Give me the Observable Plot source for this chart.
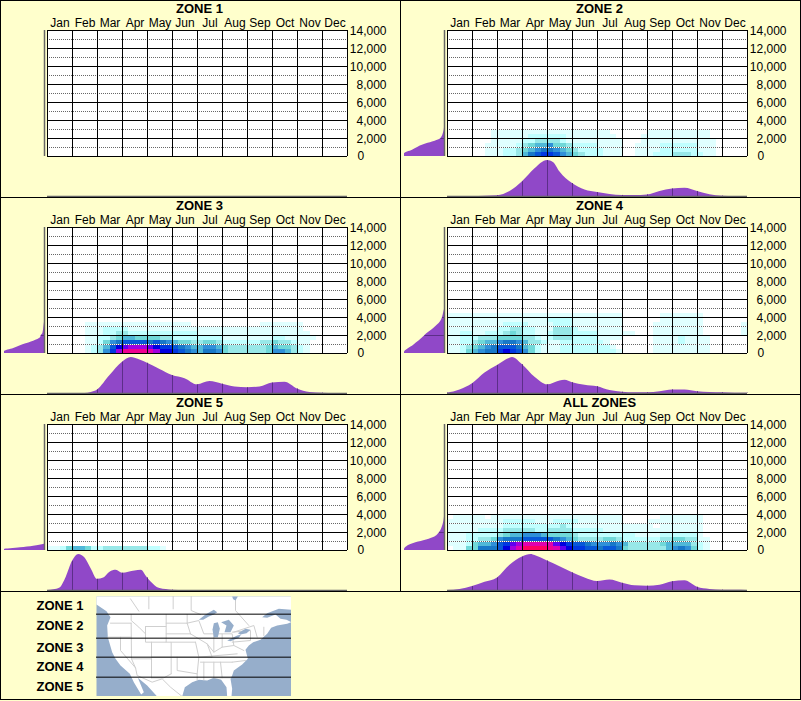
<!DOCTYPE html>
<html>
<head>
<meta charset="utf-8">
<script src="https://cdn.jsdelivr.net/npm/d3@7"></script>
<script src="https://cdn.jsdelivr.net/npm/@observablehq/plot@0.6"></script>
<style>
html,body{margin:0;padding:0;background:#ffffcc;}
#chart{position:relative;width:801px;height:701px;overflow:hidden;background:#ffffcc;}
#chart>svg{position:absolute;}
.ln{position:absolute;background:#000;}
</style>
</head>
<body>
<div id="chart"></div>
<script>
const months = ["Jan","Feb","Mar","Apr","May","Jun","Jul","Aug","Sep","Oct","Nov","Dec"];
const zoneNames = ["ZONE 1","ZONE 2","ZONE 3","ZONE 4","ZONE 5","ALL ZONES"];
const countTicks = [2000,4000,6000,8000,10000,12000,14000];
const halfTicks = [1000,3000,5000,7000,9000,11000,13000];

// colour level per cell: one string per 500-count row (bottom row first), 4 cells per month
const levels = ["0","1","2","3","4","5","6","7","8","9","a","b","c","d","e","f"];
const levelColors = ["#ffffff","#e0ffff","#c0ffff","#98e8e8","#70d8d8","#50b8d8","#3090d8","#1878c8","#0858d8","#0038e0","#0000e0","#6000f0","#a000e0","#e000b0","#f00090","#ff0060"];

const heatZone1 = [];
const heatZone2 = [
 "0000 0011 1223 5789 9865 4322 2111 0011 1222 3332 2110 0000",
 "0000 0011 1223 4567 7654 3222 2111 0011 1122 2222 1110 0000",
 "0000 0011 1112 3455 6443 2222 1111 0011 1122 2222 1110 0000",
 "0000 0001 1111 2233 3321 1111 1111 0001 1111 1111 1110 0000",
 "0000 0001 1111 1222 2221 1111 1110 0001 1111 1111 1100 0000",
 "0000 0001 1111 1111 1111 1111 1100 0000 1111 1111 1100 0000"];
const heatZone3 = [
 "0000 0012 369c eeee dcaa 9876 5776 4333 3334 6653 2100 0000",
 "0000 0012 358a bccc ba99 8765 5665 4333 3334 5443 2100 0000",
 "0000 0011 2467 8888 7876 5443 3443 2222 2233 4332 1100 0000",
 "0000 0011 2234 5544 4433 2222 2222 1111 1111 2211 1110 0000",
 "0000 0011 1223 3222 2222 2222 1111 1111 1111 1111 1100 0000",
 "0000 0011 1222 2111 1111 1111 1111 1111 1111 1111 1000 0000",
 "0000 0011 1111 1111 1111 1110 0000 0000 0011 1111 1000 0000"];
const heatZone4 = [
 "1124 5677 9a98 6421 1122 2222 2221 0000 0111 1111 1100 0000",
 "1123 4567 8887 5421 1122 2222 2210 0000 0111 1111 1100 0000",
 "1122 3455 6776 5332 1122 2222 2100 0000 0111 1211 1100 0000",
 "1122 2333 4444 3321 2333 2222 1111 0000 0111 1211 1100 0000",
 "1122 1122 2343 2211 2333 2222 1111 1100 0111 1111 1000 0001",
 "1111 1111 2233 2211 1333 2111 1111 0000 0111 1111 1000 0001",
 "1111 1111 1222 2111 1222 1111 1111 0000 0111 1111 1000 0001",
 "1111 1111 1111 1111 2222 1111 1111 0000 0011 1111 1000 0000",
 "1111 1111 1111 1111 1111 1111 1111 0000 0011 1111 1000 0000"];
const heatZone5 = [
 "1124 5542 2333 3333 2210 0000 0000 0000 0000 0000 0000 0000"];
const heatAll = [
 "0114 4777 8acd ffff edba 9988 7887 4333 3335 6764 2100 0000",
 "1112 4556 89bc dddd dba9 8876 6676 5333 3345 5553 2100 0000",
 "1112 2334 6777 8888 8765 4333 3443 2222 2233 4433 1100 0000",
 "1112 2222 3455 6665 4444 3222 2222 2211 1122 2222 1000 0000",
 "1111 1222 2333 3322 3333 2222 2111 1111 1111 1111 1000 0000",
 "1111 1111 1222 2222 2232 1111 1111 1111 1011 1111 1000 0000",
 "1111 1111 1222 2211 1222 2111 1111 0000 1111 1111 1000 0000",
 "0111 1101 1111 1111 1111 1111 1111 0000 0011 1111 1000 0000"];

// bottom profile: [month position, share of the peak]
const monthlyZone1 = [];
const monthlyZone2 = [[0,0],[1,0],[1.5,.005],[2,.02],[2.5,.14],[3,.41],[3.5,.77],[4,1],[4.25,.94],[4.5,.68],[5,.36],[5.5,.18],[6,.11],[6.5,.055],[7,.03],[7.5,.03],[8,.045],[8.5,.14],[9,.21],[9.5,.23],[10,.14],[10.5,.05],[11,.01],[11.5,0],[12,0]];
const monthlyZone3 = [[0,0],[1,0],[1.5,0],[1.75,.03],[2,.1],[2.5,.5],[3,.87],[3.35,1],[3.5,.98],[4,.84],[4.5,.67],[5,.5],[5.5,.41],[6,.24],[6.5,.33],[7,.26],[7.5,.18],[8,.16],[8.5,.18],[9,.29],[9.5,.31],[10,.125],[10.5,.03],[11,.01],[11.5,0],[12,0]];
const monthlyZone4 = [[0,.01],[.5,.1],[1,.27],[1.5,.57],[2,.78],[2.5,.98],[2.6,1],[3,.8],[3.5,.45],[4,.24],[4.5,.35],[4.7,.37],[5,.3],[5.5,.23],[6,.19],[6.5,.08],[7,.035],[7.5,.02],[8,.02],[8.5,.05],[9,.1],[9.5,.1],[10,.05],[10.5,.03],[11,.02],[11.5,.01],[12,.01]];
const monthlyZone5 = [[0,0],[.25,.02],[.5,.07],[.75,.37],[1,.81],[1.25,1],[1.5,.9],[1.75,.6],[2,.31],[2.25,.35],[2.5,.51],[2.75,.56],[3,.48],[3.5,.54],[3.75,.56],[4,.35],[4.5,.055],[5,.01],[5.5,0],[12,0]];
const monthlyAll = [[0,0],[.5,.03],[1,.11],[1.5,.23],[2,.35],[2.5,.7],[3,.93],[3.35,1],[3.5,.97],[4,.82],[4.5,.66],[5,.49],[5.5,.35],[6,.25],[6.5,.29],[7,.2],[7.5,.13],[8,.12],[8.5,.145],[9,.245],[9.5,.27],[10,.09],[10.5,.03],[11,.01],[11.5,.005],[12,0]];

// left profile: [count, share of the peak]
const countZone1 = [];
const countZone2 = [[0,1],[300,1],[700,.8],[1300,.52],[1600,.3],[2000,.09],[2600,.025],[3200,0]];
const countZone3 = [[0,1],[200,1],[555,.77],[1000,.52],[1370,.27],[1740,.1],[2000,.08],[2220,.04],[2960,.015],[3480,0]];
const countZone4 = [[0,1],[100,1],[925,.77],[1850,.52],[2000,.49],[2780,.27],[3520,.1],[4000,.05],[4440,.025],[4900,0]];
const countZone5 = [[0,1],[100,1],[300,.6],[480,.27],[700,0]];
const countAll = [[0,1],[80,1],[780,.77],[1070,.52],[1440,.27],[2000,.125],[2800,.04],[3740,0]];

const heats = [heatZone1,heatZone2,heatZone3,heatZone4,heatZone5,heatAll];
const monthlies = [monthlyZone1,monthlyZone2,monthlyZone3,monthlyZone4,monthlyZone5,monthlyAll];
const counts = [countZone1,countZone2,countZone3,countZone4,countZone5,countAll];

// key map, in the map picture's own units
const mapZones = ["ZONE 1","ZONE 2","ZONE 3","ZONE 4","ZONE 5"];
const mapZoneLabelY = [46,105,172,230,290];
const mapZoneEdges = [71,143,200,260];
const mapLand = [[288,18],[873,18],[873,58],[835,55],[800,68],[785,80],[800,82],[825,72],[840,85],[858,88],[873,95],[860,100],[830,105],[812,112],[800,130],[780,148],[758,155],[745,165],[735,178],[742,205],[725,222],[700,240],[695,255],[690,265],[695,295],[693,318],[680,318],[678,290],[662,268],[640,262],[620,270],[595,268],[575,275],[553,290],[545,318],[470,318],[440,285],[412,262],[430,305],[422,312],[400,275],[388,250],[360,225],[345,205],[335,185],[322,140],[320,105],[330,80],[318,62],[288,42]];
const mapLakes = [
 [[595,88],[615,72],[640,58],[650,65],[640,72],[625,78],[608,88]],
 [[640,98],[652,95],[658,115],[652,140],[640,140],[636,118]],
 [[662,95],[685,88],[700,105],[690,125],[672,125],[678,105]],
 [[680,150],[710,135],[722,132],[715,142],[690,152]],
 [[712,128],[735,115],[750,118],[738,128],[720,132]],
 [[695,18],[712,18],[705,30],[698,26]]];
const mapBorders = [
 [[330,98],[392,98]],[[392,72],[392,90],[415,110],[435,130]],[[392,98],[393,205]],[[322,140],[393,140]],
 [[360,140],[360,180],[405,232]],[[393,205],[453,205],[453,262]],[[393,205],[405,232],[410,255],[455,275],[485,265],[510,290],[545,318]],
 [[453,155],[453,205]],[[435,108],[497,108],[497,155],[435,155],[435,108]],
 [[497,72],[497,108]],[[497,98],[560,98]],[[497,130],[570,130]],[[560,72],[560,98],[570,130]],
 [[497,155],[512,155],[512,250]],[[512,155],[585,155]],[[453,200],[595,200]],[[453,262],[490,262],[512,250]],
 [[530,200],[530,240],[590,250],[590,268]],[[590,250],[595,200]],[[585,155],[595,200],[635,200],[620,160],[570,130]],
 [[560,98],[595,90],[610,130],[640,130],[640,185],[620,160]],[[640,130],[665,130],[665,170],[640,185]],
 [[665,130],[695,130],[700,165],[665,170]],[[595,200],[710,190]],[[600,215],[695,215]],[[695,215],[735,210]],
 [[700,165],[730,180]],[[695,125],[750,120],[750,150],[695,155]],[[700,125],[760,105],[770,140]],
 [[640,215],[640,262]],[[665,262],[660,215]],[[610,215],[610,268]],[[640,262],[690,262]],
 [[790,110],[790,135]],[[390,25],[415,62]],[[445,18],[445,55]],[[518,18],[518,55]],[[572,18],[572,60],[600,72]],[[705,30],[705,60],[745,105]]];

const FONT = "'Liberation Sans',Arial,sans-serif";
const BASE = {fontFamily:FONT,fontSize:"12px",background:"transparent",color:"#000",position:"absolute"};
const PURPLE = "#9048c8", DARKPURPLE = "#5c2e88", AXISGRAY = "#666";
const chart = document.getElementById("chart");
function place(svg,left,top){svg.style.left=left+"px";svg.style.top=top+"px";chart.appendChild(svg);}
function line(l,t,w,h){const d=document.createElement("div");d.className="ln";d.style.cssText=`left:${l}px;top:${t}px;width:${w}px;height:${h}px`;chart.appendChild(d);}

function cells(rows){
  const out=[];
  rows.forEach((row,r)=>{[...row.replace(/ /g,"")].forEach((lv,c)=>{if(lv!=="0")out.push({m1:c/4,m2:(c+1)/4,v1:r*500,v2:(r+1)*500,lv});});});
  return out;
}

zoneNames.forEach((name,i)=>{
  const ox=(i%2)*400, oy=Math.floor(i/2)*197;
  const main=Plot.plot({
    width:400,height:196,marginLeft:47,marginRight:53,marginTop:30,marginBottom:40,style:BASE,
    x:{domain:[0,12],axis:null},y:{domain:[0,14000],axis:null},
    color:{type:"ordinal",domain:levels,range:levelColors},
    marks:[
      Plot.frame({fill:"white",stroke:"none"}),
      Plot.rect(cells(heats[i]),{x1:"m1",x2:"m2",y1:"v1",y2:"v2",fill:"lv",shapeRendering:"crispEdges"}),
      Plot.ruleY(halfTicks,{stroke:"white"}),
      Plot.ruleY(halfTicks,{stroke:"#666",strokeDasharray:"1,1"}),
      Plot.ruleY([0,...countTicks],{stroke:"#000"}),
      Plot.ruleX(d3.range(13),{stroke:"#000"}),
      Plot.axisX({anchor:"top",ticks:months.map((_,k)=>k+.5),tickFormat:d=>months[Math.floor(d)],tickSize:0,tickPadding:4,fontSize:12,label:null}),
      Plot.axisY({anchor:"right",ticks:countTicks,tickFormat:d3.format(","),tickSize:0,tickPadding:3,textAnchor:"end",dx:36,dy:1,fontSize:12,label:null}),
      Plot.axisY({anchor:"right",ticks:[0],tickFormat:d=>String(d),tickSize:0,tickPadding:3,textAnchor:"start",dx:7,dy:0,fontSize:12,label:null}),
      Plot.text([name],{frameAnchor:"top",lineAnchor:"middle",dx:2,dy:-22,fontWeight:"bold",fontSize:13})
    ]
  });
  place(main,ox,oy);

  const leftPlot=Plot.plot({
    width:46,height:196,marginLeft:0,marginRight:0,marginTop:0,marginBottom:0,style:BASE,
    x:{domain:[0,1],range:[44,4],axis:null},y:{domain:[0,14000],range:[156,30],axis:null},
    marks:[
      Plot.areaX(counts[i],{x:d=>d[1],y:d=>d[0],fill:PURPLE,curve:"monotone-y"}),
      Plot.ruleY(counts[i].filter(d=>d[0]>0&&d[0]%2000===0),{y:d=>d[0],x1:0,x2:d=>d[1],stroke:DARKPURPLE}),
      Plot.ruleX([0],{y1:0,y2:14000,stroke:AXISGRAY,strokeWidth:1.5})
    ]
  });
  place(leftPlot,ox,oy);

  const bottomPlot=Plot.plot({
    width:400,height:41,marginLeft:47,marginRight:53,marginTop:0,marginBottom:0,style:BASE,
    x:{domain:[0,12],axis:null},y:{domain:[0,1],range:[40,4],axis:null},
    marks:[
      Plot.areaY(monthlies[i],{x:d=>d[0],y:d=>d[1],fill:PURPLE,curve:"monotone-x"}),
      Plot.ruleX(monthlies[i].filter(d=>Number.isInteger(d[0])&&d[1]>0),{x:d=>d[0],y1:0,y2:d=>d[1],stroke:DARKPURPLE}),
      Plot.ruleY([0],{stroke:AXISGRAY,strokeWidth:1.5})
    ]
  });
  place(bottomPlot,ox,oy+156);
});

const mapPlot=Plot.plot({
  width:291,height:100,marginLeft:96,marginRight:0,marginTop:0,marginBottom:0,style:BASE,
  x:{domain:[288,873],axis:null},y:{domain:[18,318],range:[0,100],axis:null},
  marks:[
    Plot.frame({fill:"#96aecb",stroke:"none"}),
    Plot.line(mapLand,{x:d=>d[0],y:d=>d[1],fill:"white",stroke:"none"}),
    ...mapBorders.map(b=>Plot.line(b,{x:d=>d[0],y:d=>d[1],stroke:"#cfcfcf",strokeWidth:1,curve:"linear"})),
    ...mapLakes.map(l=>Plot.line(l,{x:d=>d[0],y:d=>d[1],fill:"#96aecb",stroke:"none"})),
    Plot.ruleY(mapZoneEdges,{stroke:"#000"}),
    Plot.text(mapZones,{y:(d,k)=>mapZoneLabelY[k],frameAnchor:"left",textAnchor:"end",dx:-13,fontWeight:"bold",fontSize:13})
  ]
});
place(mapPlot,0,596);

[0,197,394,591,699].forEach(y=>line(0,y,801,1));
line(0,0,1,700);line(800,0,1,700);line(400,0,1,591);
</script>
</body>
</html>
